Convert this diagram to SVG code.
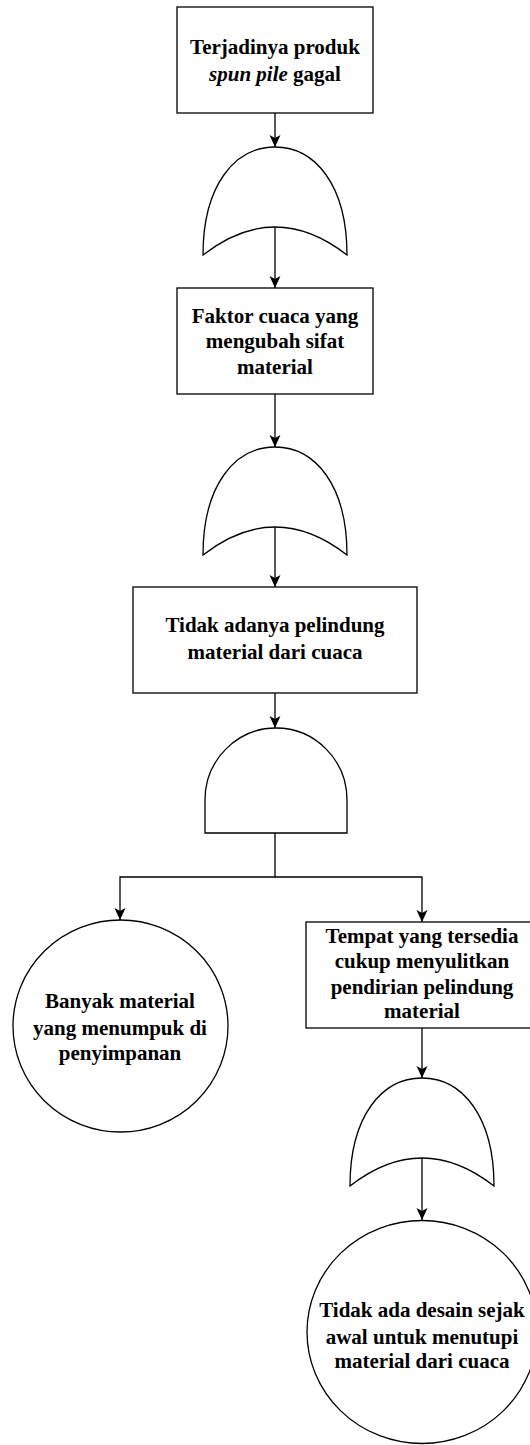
<svg xmlns="http://www.w3.org/2000/svg" width="530" height="1445" viewBox="0 0 530 1445">
<style>
.shape{fill:#fff;stroke:#000;stroke-width:1.3}
.edge{fill:none;stroke:#000;stroke-width:1.3}
.t{font-family:"Liberation Serif","Times New Roman",serif;font-weight:bold;font-size:21px;fill:#000;text-anchor:middle}
</style>
<defs>
<marker id="arr" viewBox="0 0 12 12" refX="12" refY="6" markerWidth="12" markerHeight="12" markerUnits="userSpaceOnUse" orient="auto">
<path d="M0,0.5 L12,6 L0,11.5 L3,6 Z" fill="#000"/>
</marker>
</defs>
<rect width="530" height="1445" fill="#fff"/>
<g id="connectors">
<path class="edge" d="M275,113 L275,147" marker-end="url(#arr)"/>
<path class="edge" d="M275,227 L275,288" marker-end="url(#arr)"/>
<path class="edge" d="M275,394 L275,447" marker-end="url(#arr)"/>
<path class="edge" d="M275,527 L275,587" marker-end="url(#arr)"/>
<path class="edge" d="M275,693 L275,728" marker-end="url(#arr)"/>
<path class="edge" d="M275,833 L275,877 L120,877 L120,920" marker-end="url(#arr)"/>
<path class="edge" d="M275,877 L422,877 L422,922" marker-end="url(#arr)"/>
<path class="edge" d="M422,1028 L422,1078" marker-end="url(#arr)"/>
<path class="edge" d="M422,1158 L422,1220" marker-end="url(#arr)"/>
</g>
<g id="top-event">
<rect class="shape" x="177" y="7" width="196" height="106"/>
<text class="t" x="275" y="54">Terjadinya produk</text>
<text class="t" x="275" y="81"><tspan font-style="italic">spun pile</tspan> gagal</text>
</g>
<g id="or-gate-1">
<path class="shape" d="M203,255 C203,185 235,147 275,147 C315,147 347,185 347,255 Q275,199 203,255 Z"/>
</g>
<g id="faktor-cuaca">
<rect class="shape" x="177" y="288" width="196" height="106"/>
<text class="t" x="275" y="323">Faktor cuaca yang</text>
<text class="t" x="275" y="348">mengubah sifat</text>
<text class="t" x="275" y="374">material</text>
</g>
<g id="or-gate-2">
<path class="shape" d="M203,555 C203,485 235,447 275,447 C315,447 347,485 347,555 Q275,499 203,555 Z"/>
</g>
<g id="tidak-pelindung">
<rect class="shape" x="133" y="587" width="284" height="106"/>
<text class="t" x="275" y="632">Tidak adanya pelindung</text>
<text class="t" x="275" y="659">material dari cuaca</text>
</g>
<g id="and-gate">
<path class="shape" d="M205,833 L205,800 A71,72 0 0 1 347,800 L347,833 Z"/>
</g>
<g id="banyak-material">
<ellipse class="shape" cx="120.5" cy="1026" rx="107.5" ry="106"/>
<text class="t" x="120" y="1008">Banyak material</text>
<text class="t" x="120" y="1035">yang menumpuk di</text>
<text class="t" x="120" y="1060">penyimpanan</text>
</g>
<g id="tempat-tersedia">
<rect class="shape" x="306" y="922" width="232" height="106"/>
<text class="t" x="422" y="943">Tempat yang tersedia</text>
<text class="t" x="422" y="968">cukup menyulitkan</text>
<text class="t" x="422" y="994">pendirian pelindung</text>
<text class="t" x="422" y="1018">material</text>
</g>
<g id="or-gate-3">
<path class="shape" d="M350,1186 C350,1116 382,1078 422,1078 C462,1078 494,1116 494,1186 Q422,1130 350,1186 Z"/>
</g>
<g id="tidak-ada-desain">
<ellipse class="shape" cx="422" cy="1332" rx="115" ry="111.5"/>
<text class="t" x="422" y="1317">Tidak ada desain sejak</text>
<text class="t" x="422" y="1344">awal untuk menutupi</text>
<text class="t" x="422" y="1368">material dari cuaca</text>
</g>
</svg>
